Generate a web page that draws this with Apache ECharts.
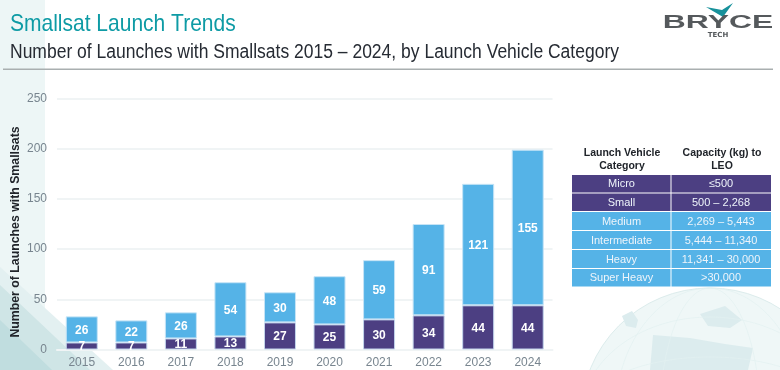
<!DOCTYPE html>
<html>
<head>
<meta charset="utf-8">
<style>
html,body{margin:0;padding:0;background:#fff;}
#chart{width:780px;height:370px;}
</style>
<script src="https://cdn.jsdelivr.net/npm/echarts@6/dist/echarts.min.js"></script>
</head>
<body>
<div id="chart"></div>
<script>
var years = ['2015','2016','2017','2018','2019','2020','2021','2022','2023','2024'];
var smallLaunches = [7,7,11,13,27,25,30,34,44,44];
var largerLaunches = [26,22,26,54,30,48,59,91,121,155];

var tableHead = ['Launch Vehicle\nCategory','Capacity (kg) to\nLEO'];
var tableCategories = ['Micro','Small','Medium','Intermediate','Heavy','Super Heavy'];
var tableCapacity = ['≤500','500 – 2,268','2,269 – 5,443','5,444 – 11,340','11,341 – 30,000','>30,000'];

var PURPLE = '#4c3f82';
var BLUE = '#55b3e7';
var FONT = '"Liberation Sans", Arial, sans-serif';

var chart = echarts.init(document.getElementById('chart'));

// background pieces: left band, corner triangles, faint globe
var graphics = [
	{type:'rect', z:-5, shape:{x:0,y:0,width:45,height:370}, style:{fill:'#edf6f6'}},
	{type:'polygon', z:-4, shape:{points:[[0,267],[113,370],[0,370]]}, style:{fill:'#e3f0f1'}},
	{type:'polygon', z:-4, shape:{points:[[0,285],[90,370],[0,370]]}, style:{fill:'#cfe5e6'}},
	{type:'polygon', z:-4, shape:{points:[[0,320],[52,370],[0,370]]}, style:{fill:'#c0dddf'}},
	{type:'circle', z:-5, shape:{cx:710,cy:417,r:129}, style:{fill:'#eff7f7',stroke:'#dcecec',lineWidth:1}},
	{type:'polygon', z:-4, shape:{points:[[622,316],[632,311],[638,320],[636,328],[626,326]]}, style:{fill:'#dcecee'}},
	{type:'polygon', z:-4, shape:{points:[[700,314],[725,306],[742,320],[730,328],[708,326]]}, style:{fill:'#dcecee'}},
	{type:'polygon', z:-4, shape:{points:[[653,335],[690,338],[725,344],[753,348],[748,370],[650,370]]}, style:{fill:'#dcecee'}},
	{type:'ellipse', z:-4, shape:{cx:710,cy:417,rx:50,ry:129}, style:{fill:null,stroke:'#e3f0f0',lineWidth:0.7}},
	{type:'ellipse', z:-4, shape:{cx:710,cy:417,rx:95,ry:129}, style:{fill:null,stroke:'#e3f0f0',lineWidth:0.7}},
	{type:'ellipse', z:-4, shape:{cx:710,cy:417,rx:129,ry:60}, style:{fill:null,stroke:'#e3f0f0',lineWidth:0.7}},
	{type:'ellipse', z:-4, shape:{cx:710,cy:417,rx:129,ry:100}, style:{fill:null,stroke:'#e3f0f0',lineWidth:0.7}},
	// header, the reference is squeezed sideways so the text is scaled too
	{type:'text', x:10, y:24, scaleX:0.875, style:{text:'Smallsat Launch Trends',font:'24px '+FONT,fill:'#0e9ba5',verticalAlign:'middle'}},
	{type:'text', x:10, y:52, scaleX:0.875, style:{text:'Number of Launches with Smallsats 2015 – 2024, by Launch Vehicle Category',font:'20px '+FONT,fill:'#262b33',verticalAlign:'middle'}},
	{type:'rect', shape:{x:3,y:68.5,width:770,height:1.5}, style:{fill:'#a9afb0'}},
	// logo
	{type:'polygon', shape:{points:[[706,7],[722,10],[733,3],[723,17]]}, style:{fill:'#17919b'}},
	{type:'text', x:718, y:23.5, scaleX:1.77, style:{text:'BRYCE',font:'bold 18px '+FONT,fill:'#55595c',align:'center',verticalAlign:'middle'}},
	{type:'text', x:718, y:35.5, style:{text:'TECH',font:'bold 7px "DejaVu Sans"',fill:'#55595c',align:'center',verticalAlign:'middle'}},
	// y axis title
	{type:'text', x:16, y:232, rotation:Math.PI/2, style:{text:'Number of Launches with Smallsats',font:'bold 12.3px '+FONT,fill:'#20242a',align:'center',verticalAlign:'middle'}}
];

// capacity table
var tableX = [572,671,771];
var rowY = [175,193.5,212,231,250,269,287.5];
graphics.push({type:'text', x:622, y:160, style:{text:tableHead[0],font:'bold 10.5px '+FONT,lineHeight:13,fill:'#20242a',align:'center',verticalAlign:'middle'}});
graphics.push({type:'text', x:722, y:160, style:{text:tableHead[1],font:'bold 10.5px '+FONT,lineHeight:13,fill:'#20242a',align:'center',verticalAlign:'middle'}});
tableCategories.forEach(function(name, i) {
	var fill = i < 2 ? PURPLE : BLUE;
	var y0 = rowY[i], h = rowY[i+1] - rowY[i] - 1;
	graphics.push({type:'rect', shape:{x:tableX[0],y:y0,width:tableX[1]-tableX[0]-0.5,height:h}, style:{fill:fill}});
	graphics.push({type:'rect', shape:{x:tableX[1]+0.5,y:y0,width:tableX[2]-tableX[1]-0.5,height:h}, style:{fill:fill}});
	graphics.push({type:'text', x:(tableX[0]+tableX[1])/2, y:y0+h/2+0.5, style:{text:name,font:'11px '+FONT,fill:'#eef4fa',align:'center',verticalAlign:'middle'}});
	graphics.push({type:'text', x:(tableX[1]+tableX[2])/2, y:y0+h/2+0.5, style:{text:tableCapacity[i],font:'11px '+FONT,fill:'#eef4fa',align:'center',verticalAlign:'middle'}});
});

function barLabel() {
	return {show:true, position:'inside', offset:[0,1], color:'#fff', fontFamily:FONT, fontWeight:'bold', fontSize:12};
}

chart.setOption({
	animation:false,
	backgroundColor:'#fff',
	textStyle:{fontFamily:FONT},
	grid:{left:57, right:227.5, top:98.5, bottom:20.5, containLabel:false},
	graphic:{elements:graphics},
	xAxis:{
		type:'category',
		data:years,
		axisTick:{show:false},
		axisLine:{lineStyle:{color:'#f0f4f5',width:2}},
		axisLabel:{color:'#78858f',fontSize:12,margin:7}
	},
	yAxis:{
		type:'value',
		min:0,
		max:250,
		interval:50,
		axisLine:{show:false},
		axisTick:{show:false},
		splitLine:{lineStyle:{color:'#f0f4f5',width:2}},
		axisLabel:{color:'#78858f',fontSize:12,margin:10}
	},
	series:[{
		name:'Micro and Small',
		type:'bar',
		stack:'launches',
		barWidth:32,
		data:smallLaunches,
		label:barLabel(),
		itemStyle:{color:PURPLE,borderColor:'#c3d5ec',borderWidth:1}
	},{
		name:'Medium and larger',
		type:'bar',
		stack:'launches',
		barWidth:32,
		data:largerLaunches,
		label:barLabel(),
		itemStyle:{color:BLUE,borderColor:'#c6e4f6',borderWidth:1}
	}]
});
</script>
</body>
</html>
